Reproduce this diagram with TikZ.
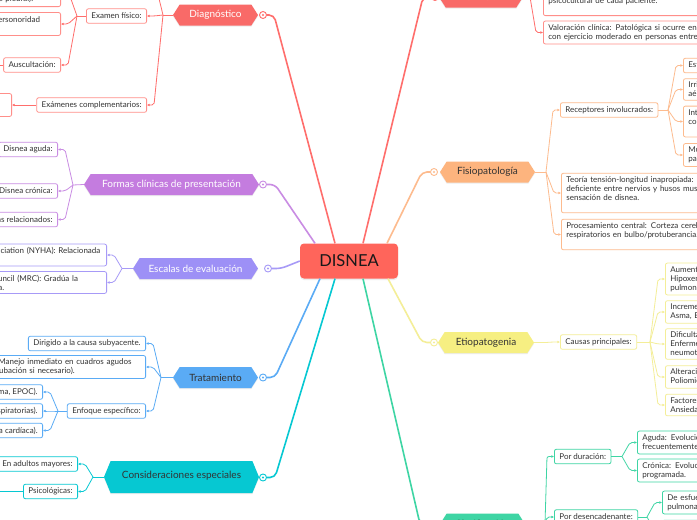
\documentclass[tikz,border=0pt]{standalone}
\usepackage{fontspec}
\setmainfont{Lato}
\usetikzlibrary{shapes.symbols,arrows.meta,shadows}
\definecolor{cRed}{HTML}{FF6E6C}
\definecolor{cRedB}{HTML}{FF8F8A}
\definecolor{cRedF}{HTML}{F96A68}
\definecolor{cCore}{HTML}{FF655B}
\definecolor{cOr}{HTML}{FDB47E}
\definecolor{cOrL}{HTML}{FDBB8E}
\definecolor{cYe}{HTML}{F6EF82}
\definecolor{cYeL}{HTML}{F4EE98}
\definecolor{cGr}{HTML}{3ED5A4}
\definecolor{cPu}{HTML}{C47CDF}
\definecolor{cPuL}{HTML}{C98CE3}
\definecolor{cLa}{HTML}{9D90F6}
\definecolor{cLaL}{HTML}{A79AF7}
\definecolor{cBl}{HTML}{5AABF5}
\definecolor{cTe}{HTML}{06C8D2}
\definecolor{cTxt}{HTML}{333333}
\newcommand\fs{\fontsize{8}{9}\selectfont}
\newcommand\fh{\fontsize{10}{12}\selectfont}
\begin{document}
\begin{tikzpicture}[x=1pt,y=-1pt,
 hexa/.style={shape=signal, signal to=west and east, signal pointer angle=115, fill=#1, inner sep=0pt, minimum height=21pt, font=\fh, drop shadow={opacity=0.15, shadow xshift=0pt, shadow yshift=-1.2pt}},
 bx/.style={draw=#1, fill=white, rounded corners=2pt, line width=0.8pt, font=\fs, text=cTxt, inner xsep=5pt, inner ysep=3.3pt, minimum height=14.5pt},
 mk/.style={circle, draw=#1, fill=white, line width=0.9pt, minimum size=7pt, inner sep=0pt},
 trunk/.style={draw=#1, line width=1.6pt, rounded corners=5pt},
 ln/.style={draw=#1, line width=0.8pt},
 lk/.style={draw=#1, line width=0.8pt, rounded corners=2pt, -{Latex[length=2.6pt,width=2.6pt]}},
]
\useasboundingbox (0,0) rectangle (697,520);
\fill[white] (0,0) rectangle (697,520);
\clip (0,0) rectangle (697,520);

% ---------- core ----------
\node[fill=cCore, rounded corners=4pt, minimum width=98pt, minimum height=35pt, font=\fontsize{16.5}{18}\selectfont, text=black!90, drop shadow={opacity=0.15, shadow xshift=0pt, shadow yshift=-1.5pt}] (core) at (349,261) {DISNEA};

% ---------- Diagnostico ----------
\node[hexa=cRedF, text=white, minimum width=85pt] (dg) at (215.5,15) {Diagnóstico};
\node[mk=cRed] (dgM) at (263,15) {};
\fill[cRed] (dgM.center) circle (1.2pt);
\coordinate (dgB) at (163,15);
\node[bx=cRedB, anchor=east] (anam) at (147,-22) {Anamnesis:};
\node[bx=cRedB, anchor=east] (exf) at (147,16) {Examen físico:};
\node[bx=cRedB, anchor=east] (exc) at (147,105) {Exámenes complementarios:};
\coordinate (exfB) at (77,16);
\node[bx=cRedB, anchor=south east, text width=155pt, align=left] (ef1) at (61,7) {Inspección y palpación: uso de músculos\\accesorios, cianosis, disminución de\\vibraciones vocales (derrame pleural).};
\node[bx=cRedB, anchor=east, text width=182pt, align=left] (ef2) at (61,24) {Percusión: matidez (derrame) o hipersonoridad\\(neumotórax).};
\node[bx=cRedB, anchor=east] (aus) at (61,65) {Auscultación:};
\coordinate (ausK) at (-8,65);
\node[bx=cRedB, anchor=east, text width=150pt, align=left] (exc1) at (12,105) {Gasometría, radiografía de tórax,\\espirometría, ECG, ecocardiograma.};
\draw[ln=cRed] (dg.west) -- (dgB);
\draw[lk=cRed] (dgB) -- ([xshift=7pt]anam.east) -- (anam.east);
\draw[lk=cRed] (dgB) -- ([xshift=7pt]exf.east) -- (exf.east);
\draw[lk=cRed] (dgB) -- ([xshift=7pt]exc.east) -- (exc.east);
\draw[ln=cRed] (exf.west) -- (exfB);
\draw[lk=cRed] (exfB) -- ([xshift=7pt]ef1.east) -- (ef1.east);
\draw[lk=cRed] (exfB) -- ([xshift=7pt]ef2.east) -- (ef2.east);
\draw[lk=cRed] (exfB) -- ([xshift=7pt]aus.east) -- (aus.east);
\draw[ln=cRed] (aus.west) -- (ausK);
\draw[lk=cRed] (exc.west) -- (exc1.east);

% ---------- Definicion ----------
\node[hexa=cRedF, text=white, minimum width=84pt] (df) at (481,-3) {Definición};
\node[mk=cRed] (dfM) at (435,-3) {};
\fill[cRed] (dfM.center) circle (1.2pt);
\coordinate (dfB) at (530,-3);
\node[bx=cRedB, anchor=south west, text width=220pt, align=left] (df1) at (543,16) {Disnea: sensación subjetiva de falta de aire,\\variable según el contexto fisiológico y\\psicocultural de cada paciente.\\\phantom{x}};
\node[bx=cRedB, anchor=west, text width=220pt, align=left] (df2) at (543,32.5) {Valoración clínica: Patológica si ocurre en reposo o\\con ejercicio moderado en personas entrenadas.};
\draw[ln=cRed] (df.east) -- (dfB);
\draw[lk=cRed] (dfB) -- ([xshift=-7pt]df1.west) -- (df1.west);
\draw[lk=cRed] (dfB) -- ([xshift=-7pt]df2.west) -- (df2.west);

% ---------- Fisiopatologia ----------
\node[hexa=cOr, text=cTxt, minimum width=95pt] (fi) at (487.5,172) {Fisiopatología};
\node[mk=cOrL] (fiM) at (434,172) {};
\fill[cOrL] (fiM.center) circle (1.2pt);
\coordinate (fiB) at (546,172);
\node[bx=cOrL, anchor=west] (rec) at (560,110) {Receptores involucrados:};
\node[bx=cOrL, anchor=west, text width=260pt, align=left] (teo) at (561,193) {Teoría tensión-longitud inapropiada: Alteración en la relación\\deficiente entre nervios y husos musculares, genera\\sensación de disnea.\\\phantom{x}};
\node[bx=cOrL, anchor=west, text width=260pt, align=left] (proc) at (561,234.5) {Procesamiento central: Corteza cerebral y centros\\respiratorios en bulbo/protuberancia.\\\phantom{x}};
\coordinate (recB) at (668,110);
\node[bx=cOrL, anchor=west, text width=200pt, align=left] (r1) at (683,65.5) {Estiramiento pulmonar y de vías aéreas.};
\node[bx=cOrL, anchor=west, text width=200pt, align=left] (r2) at (683,89.5) {Irritativos: en epitelio de vías\\aéreas.};
\node[bx=cOrL, anchor=west, text width=200pt, align=left] (r3) at (683,121.5) {Intersticiales (J): yuxtacapilares,\\congestión pulmonar.\\\phantom{x}};
\node[bx=cOrL, anchor=west, text width=200pt, align=left] (r4) at (683,155) {Músculos respiratorios y\\pared torácica.};
\draw[ln=cOrL] (fi.east) -- (fiB);
\draw[lk=cOrL] (fiB) -- ([xshift=-7pt]rec.west) -- (rec.west);
\draw[lk=cOrL] (fiB) -- ([xshift=-7pt]teo.west) -- (teo.west);
\draw[lk=cOrL] (fiB) -- ([xshift=-7pt]proc.west) -- (proc.west);
\draw[ln=cOrL] (rec.east) -- (recB);
\draw[lk=cOrL] (recB) -- ([xshift=-7pt]r1.west) -- (r1.west);
\draw[lk=cOrL] (recB) -- ([xshift=-7pt]r2.west) -- (r2.west);
\draw[lk=cOrL] (recB) -- ([xshift=-7pt]r3.west) -- (r3.west);
\draw[lk=cOrL] (recB) -- ([xshift=-7pt]r4.west) -- (r4.west);

% ---------- Etiopatogenia ----------
\node[hexa=cYe, text=cTxt, minimum width=96pt] (et) at (486,342.5) {Etiopatogenia};
\node[mk=cYeL] (etM) at (434,342.5) {};
\fill[cYeL] (etM.center) circle (1.2pt);
\coordinate (etB) at (546,342.5);
\node[bx=cYeL, anchor=west] (cau) at (560,342) {Causas principales:};
\coordinate (cauB) at (650,342);
\node[bx=cYeL, anchor=west, text width=200pt, align=left] (e1) at (665,279) {Aumento del impulso respiratorio:\\Hipoxemia, acidosis, embolia\\pulmonar.};
\node[bx=cYeL, anchor=west, text width=200pt, align=left] (e2) at (665,312) {Incremento de la resistencia:\\Asma, EPOC.};
\node[bx=cYeL, anchor=west, text width=200pt, align=left] (e3) at (665,344) {Dificultad en la expansión:\\Enfermedad intersticial,\\neumotórax.};
\node[bx=cYeL, anchor=west, text width=200pt, align=left] (e4) at (665,377) {Alteración neuromuscular:\\Poliomielitis, miastenia.};
\node[bx=cYeL, anchor=west, text width=200pt, align=left] (e5) at (665,405) {Factores psicológicos:\\Ansiedad.};
\draw[ln=cYeL] (et.east) -- (etB);
\draw[lk=cYeL] (etB) -- ([xshift=-7pt]cau.west) -- (cau.west);
\draw[ln=cYeL] (cau.east) -- (cauB);
\foreach \n in {e1,e2,e3,e4,e5}{\draw[lk=cYeL] (cauB) -- ([xshift=-7pt]\n.west) -- (\n.west);}

% ---------- Clasificacion ----------
\node[hexa=cGr, text=cTxt, minimum width=85pt] (cl) at (482.5,524) {Clasificación};
\node[mk=cGr] (clM) at (432,524) {};
\fill[cGr] (clM.center) circle (1.2pt);
\coordinate (clB) at (545,524);
\node[bx=cGr, anchor=west] (dur) at (554,456.5) {Por duración:};
\node[bx=cGr, anchor=west] (des) at (554,517) {Por desencadenante:};
\coordinate (durB) at (622,456.5);
\coordinate (desB) at (647,517);
\node[bx=cGr, anchor=west, text width=200pt, align=left] (d1) at (637,442.5) {Aguda: Evolución en minutos u horas,\\frecuentemente grave.};
\node[bx=cGr, anchor=west, text width=200pt, align=left] (d2) at (637,470.5) {Crónica: Evolución en semanas o meses,\\programada.};
\node[bx=cGr, anchor=west, text width=200pt, align=left] (s1) at (662,502.5) {De esfuerzo: en enfermedad cardíaca o\\pulmonar.};
\node[bx=cGr, anchor=west, text width=200pt, align=left] (s2) at (662,531) {De reposo: en enfermedad avanzada\\o ansiedad.};
\draw[ln=cGr] (cl.east) -- (clB);
\draw[lk=cGr] (clB) -- ([xshift=-7pt]dur.west) -- (dur.west);
\draw[lk=cGr] (clB) -- ([xshift=-7pt]des.west) -- (des.west);
\draw[ln=cGr] (dur.east) -- (durB);
\draw[lk=cGr] (durB) -- ([xshift=-7pt]d1.west) -- (d1.west);
\draw[lk=cGr] (durB) -- ([xshift=-7pt]d2.west) -- (d2.west);
\draw[ln=cGr] (des.east) -- (desB);
\draw[lk=cGr] (desB) -- ([xshift=-7pt]s1.west) -- (s1.west);
\draw[lk=cGr] (desB) -- ([xshift=-7pt]s2.west) -- (s2.west);

% ---------- Formas clinicas ----------
\node[hexa=cPu, text=white, minimum width=175pt] (fo) at (171.5,184.5) {Formas clínicas de presentación};
\node[mk=cPuL] (foM) at (263,184.5) {};
\fill[cPuL] (foM.center) circle (1.2pt);
\coordinate (foB) at (73,185);
\node[bx=cPuL, anchor=east] (fa) at (58,149.5) {Disnea aguda:};
\node[bx=cPuL, anchor=east] (fc) at (58,191) {Disnea crónica:};
\node[bx=cPuL, anchor=east] (fsr) at (58,219.5) {Síntomas relacionados:};
\draw[ln=cPuL] (fo.west) -- (foB);
\foreach \n in {fa,fc,fsr}{\draw[lk=cPuL] (foB) -- ([xshift=7pt]\n.east) -- (\n.east);}

% ---------- Escalas ----------
\node[hexa=cLa, text=white, minimum width=125pt] (es) at (195.5,268.5) {Escalas de evaluación};
\node[mk=cLaL] (esM) at (268,268.5) {};
\fill[cLaL] (esM.center) circle (1.2pt);
\coordinate (esB) at (122,268.5);
\node[bx=cLaL, anchor=east, text width=178pt, align=left] (sn) at (107,255) {New York Heart Association (NYHA): Relacionada\\con el esfuerzo.};
\node[bx=cLaL, anchor=east, text width=178pt, align=left] (sm) at (107,282.5) {Medical Research Council (MRC): Gradúa la\\severidad de la disnea.};
\draw[ln=cLaL] (es.west) -- (esB);
\foreach \n in {sn,sm}{\draw[lk=cLaL] (esB) -- ([xshift=7pt]\n.east) -- (\n.east);}

% ---------- Tratamiento ----------
\node[hexa=cBl, text=cTxt, minimum width=85pt] (tr) at (215.5,377.5) {Tratamiento};
\node[mk=cBl] (trM) at (263,377.5) {};
\fill[cBl] (trM.center) circle (1.2pt);
\coordinate (trB) at (161,377.5);
\node[bx=cBl, anchor=east] (t1) at (146,343.5) {Dirigido a la causa subyacente.};
\node[bx=cBl, anchor=east, text width=190pt, align=left] (t2) at (146,367) {Sintomático: Manejo inmediato en cuadros agudos\\(oxígeno o intubación si necesario).};
\node[bx=cBl, anchor=east] (t3) at (146,411) {Enfoque específico:};
\coordinate (t3B) at (58,411);
\node[bx=cBl, anchor=east] (ta) at (43,392) {Broncodilatadores (asma, EPOC).};
\node[bx=cBl, anchor=east] (tb) at (43,411) {Antibióticos (infecciones respiratorias).};
\node[bx=cBl, anchor=east] (tc) at (43,430.5) {Diuréticos (insuficiencia cardíaca).};
\draw[ln=cBl] (tr.west) -- (trB);
\foreach \n in {t1,t2,t3}{\draw[lk=cBl] (trB) -- ([xshift=7pt]\n.east) -- (\n.east);}
\draw[ln=cBl] (t3.west) -- (t3B);
\foreach \n in {ta,tb,tc}{\draw[lk=cBl] (t3B) -- ([xshift=7pt]\n.east) -- (\n.east);}

% ---------- Consideraciones ----------
\node[hexa=cTe, text=cTxt, minimum width=155pt, minimum height=32pt, signal pointer angle=135] (co) at (181.5,477) {\raisebox{5pt}{Consideraciones especiales}};
\node[mk=cTe] (coM) at (263,477.5) {};
\fill[cTe] (coM.center) circle (1.2pt);
\coordinate (coB) at (93,477);
\node[bx=cTe, anchor=east] (ca) at (78,464) {En adultos mayores:};
\node[bx=cTe, anchor=east] (cp) at (78,491.5) {Psicológicas:};
\coordinate (cpK) at (-3,491.5);
\draw[ln=cTe] (co.west) -- (coB);
\foreach \n in {ca,cp}{\draw[lk=cTe] (coB) -- ([xshift=7pt]\n.east) -- (\n.east);}
\draw[lk=cTe] (cp.west) -- (cpK);

% ---------- trunks ----------
\draw[trunk=cRed] ([xshift=-14pt]core.north) -- (274,15) -- (dgM.east);
\draw[trunk=cRed] ([xshift=14pt]core.north) -- (423,-3) -- (dfM.west);
\draw[trunk=cOrL] ([xshift=38pt]core.north) -- (422,172) -- (fiM.west);
\draw[trunk=cYeL] ([xshift=39pt]core.south) -- (422,342.5) -- (etM.west);
\draw[trunk=cGr] ([xshift=14pt]core.south) -- (420,524) -- (clM.west);
\draw[trunk=cPuL] ([xshift=-34pt]core.north) -- (275,184.5) -- (foM.east);
\draw[trunk=cLaL] (esM.east) -- (281,268.5) -- (core.west);
\draw[trunk=cBl] ([xshift=-29pt]core.south) -- (275,377.5) -- (trM.east);
\draw[trunk=cTe] ([xshift=-14pt]core.south) -- (275,477.5) -- (coM.east);
\end{tikzpicture}
\end{document}
